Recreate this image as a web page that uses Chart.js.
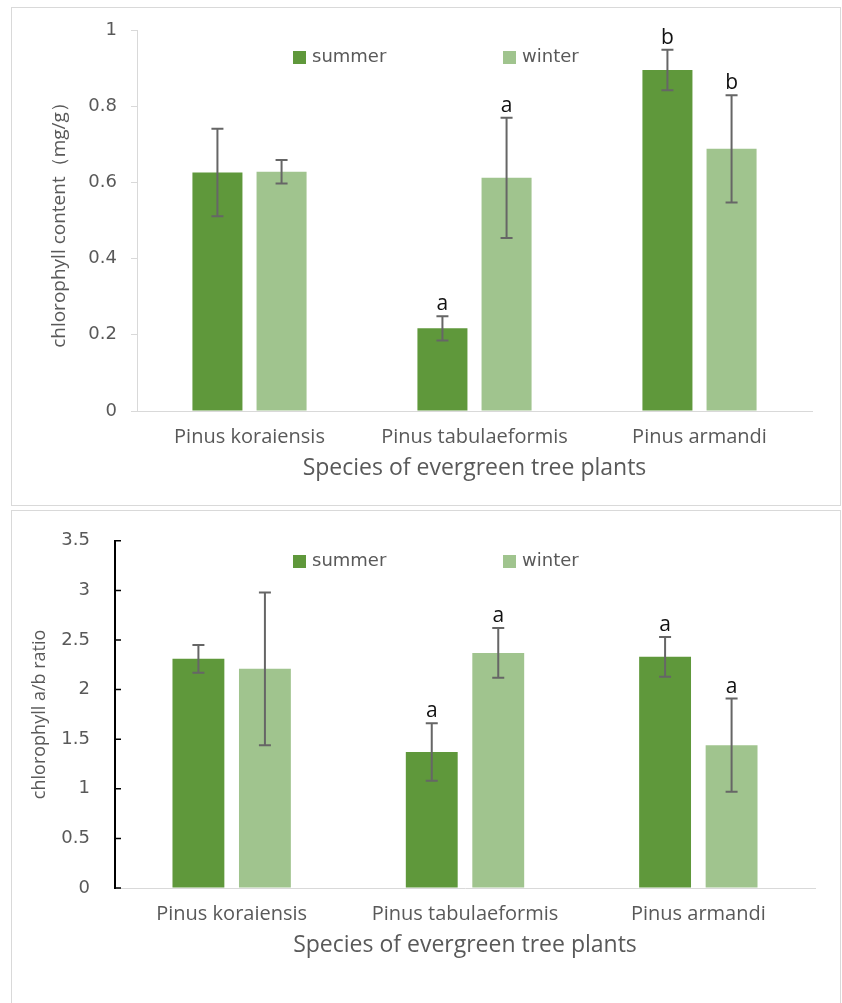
<!DOCTYPE html>
<html>
<head>
<meta charset="utf-8">
<script src="https://cdn.jsdelivr.net/npm/chart.js"></script>
<style>
  body { margin: 0; background: #fff; }
  #hoja { position: relative; width: 842px; height: 1003px; overflow: hidden; background: #fff; }
  .marco { position: absolute; border: 1px solid #d9d9d9; box-sizing: border-box; }
  canvas { position: absolute; left: 0; }
</style>
</head>
<body>
<div id="hoja">
  <div class="marco" style="left:11px; top:7px; width:830px; height:499px;"></div>
  <div class="marco" style="left:11px; top:510px; width:830px; height:510px;"></div>
  <canvas id="canvas-clorofila" width="842" height="505" style="top:0px"></canvas>
  <canvas id="canvas-ratio" width="842" height="498" style="top:505px"></canvas>
</div>
<script>
  // datos
  let especies = ["Pinus koraiensis", "Pinus tabulaeformis", "Pinus armandi"]
  let estaciones = ["summer", "winter"]

  // contenido de clorofila (mg/g)
  let clorofilaVerano = [0.626, 0.217, 0.895]
  let clorofilaInvierno = [0.628, 0.612, 0.688]
  let errClorofilaVerano = [0.115, 0.032, 0.053]
  let errClorofilaInvierno = [0.031, 0.158, 0.141]
  let letrasClorofilaVerano = ["", "a", "b"]
  let letrasClorofilaInvierno = ["", "a", "b"]

  // relacion clorofila a/b
  let ratioVerano = [2.31, 1.37, 2.33]
  let ratioInvierno = [2.21, 2.37, 1.44]
  let errRatioVerano = [0.14, 0.29, 0.2]
  let errRatioInvierno = [0.77, 0.25, 0.47]
  let letrasRatioVerano = ["", "a", "a"]
  let letrasRatioInvierno = ["", "a", "a"]

  let verdeOscuro = "#5f983b"
  let verdeClaro = "#a0c48e"
  let gris = "#595959"

  // barras de error y letras encima
  const barrasError = {
    id: "barrasError",
    afterDatasetsDraw(chart, args, opts) {
      const ctx = chart.ctx
      const escalaY = chart.scales.y
      chart.data.datasets.forEach(function(ds, i) {
        const meta = chart.getDatasetMeta(i)
        meta.data.forEach(function(barra, j) {
          const v = ds.data[j]
          const e = opts.errores[i][j]
          const yArriba = escalaY.getPixelForValue(v + e)
          const yAbajo = escalaY.getPixelForValue(v - e)
          ctx.save()
          ctx.strokeStyle = "#666666"
          ctx.lineWidth = 2
          ctx.beginPath()
          ctx.moveTo(barra.x, yArriba)
          ctx.lineTo(barra.x, yAbajo)
          ctx.moveTo(barra.x - 6, yArriba)
          ctx.lineTo(barra.x + 6, yArriba)
          ctx.moveTo(barra.x - 6, yAbajo)
          ctx.lineTo(barra.x + 6, yAbajo)
          ctx.stroke()
          const letra = opts.letras[i][j]
          if (letra) {
            ctx.fillStyle = "#111111"
            ctx.font = "21px 'Open Sans'"
            ctx.textAlign = "center"
            ctx.textBaseline = "alphabetic"
            ctx.fillText(letra, barra.x, yArriba - 6)
          }
          ctx.restore()
        })
      })
    }
  }

  // leyenda dentro del area del grafico
  const leyenda = {
    id: "leyenda",
    afterDraw(chart, args, opts) {
      const ctx = chart.ctx
      ctx.save()
      chart.data.datasets.forEach(function(ds, i) {
        const x = opts.x[i]
        ctx.fillStyle = ds.backgroundColor
        ctx.fillRect(x, opts.y - 6, 13, 13)
        ctx.fillStyle = gris
        ctx.font = "18px 'DejaVu Sans'"
        ctx.textAlign = "left"
        ctx.textBaseline = "middle"
        ctx.fillText(ds.label, x + 19, opts.y)
      })
      ctx.restore()
    }
  }

  // marcas hacia adentro del eje y (grafico de abajo)
  const marcasInternas = {
    id: "marcasInternas",
    afterDraw(chart, args, opts) {
      if (!opts.mostrar) return
      const ctx = chart.ctx
      const escalaY = chart.scales.y
      ctx.save()
      ctx.strokeStyle = "#000"
      ctx.lineWidth = 1.5
      ctx.beginPath()
      escalaY.ticks.forEach(function(t, k) {
        const y = escalaY.getPixelForTick(k)
        ctx.moveTo(chart.chartArea.left, y)
        ctx.lineTo(chart.chartArea.left + 6, y)
      })
      ctx.stroke()
      ctx.restore()
    }
  }

  function crearGrafico(id, cfg) {
    var ctx = document.getElementById(id).getContext("2d")
    return new Chart(ctx, {
      type: "bar",
      data: {
        labels: especies,
        datasets: [
          { label: estaciones[0], data: cfg.verano, backgroundColor: verdeOscuro, barPercentage: 0.78, categoryPercentage: 0.57 },
          { label: estaciones[1], data: cfg.invierno, backgroundColor: verdeClaro, barPercentage: 0.78, categoryPercentage: 0.57 }
        ]
      },
      plugins: [barrasError, leyenda, marcasInternas],
      options: {
        responsive: false,
        animation: false,
        layout: { padding: cfg.padding },
        plugins: {
          legend: { display: false },
          tooltip: { enabled: false },
          barrasError: { errores: cfg.errores, letras: cfg.letras },
          leyenda: { x: [293, 503], y: cfg.yLeyenda },
          marcasInternas: { mostrar: cfg.marcasInternas }
        },
        scales: {
          x: {
            grid: { drawOnChartArea: false, drawTicks: false },
            border: { color: "#d9d9d9", width: 1 },
            ticks: { padding: 14, color: gris, font: { family: "Open Sans", size: 20 } },
            title: {
              display: true,
              text: "Species of evergreen tree plants",
              color: gris,
              font: { family: "Open Sans", size: 23 },
              padding: { top: 0, bottom: 0 }
            },
            afterFit: function(s) { s.height = 71 }
          },
          y: {
            min: 0,
            max: cfg.max,
            ticks: {
              stepSize: cfg.paso,
              padding: cfg.paddingTicks,
              color: gris,
              font: { family: "DejaVu Sans", size: 18 },
              callback: function(valor) { return String(Number(valor.toFixed(2))) }
            },
            grid: { drawOnChartArea: false, drawTicks: cfg.ticksAfuera, tickLength: 6, color: "#d9d9d9" },
            border: { color: cfg.colorEje, width: cfg.anchoEje },
            title: {
              display: true,
              text: cfg.tituloY,
              color: gris,
              font: { family: "Open Sans", size: cfg.tamTitulo },
              padding: { top: cfg.paddingTitulo, bottom: 0 }
            },
            afterFit: function(s) { s.width = cfg.anchoY }
          }
        }
      }
    })
  }

  var graficoClorofila = crearGrafico("canvas-clorofila", {
    verano: clorofilaVerano,
    invierno: clorofilaInvierno,
    errores: [errClorofilaVerano, errClorofilaInvierno],
    letras: [letrasClorofilaVerano, letrasClorofilaInvierno],
    padding: { left: 0, top: 30, right: 30, bottom: 23 },
    yLeyenda: 57,
    max: 1,
    paso: 0.2,
    paddingTicks: 14,
    ticksAfuera: true,
    colorEje: "#d9d9d9",
    anchoEje: 1,
    tituloY: "chlorophyll content（mg/g）",
    tamTitulo: 19,
    paddingTitulo: 48,
    anchoY: 137,
    marcasInternas: false
  })

  var graficoRatio = crearGrafico("canvas-ratio", {
    verano: ratioVerano,
    invierno: ratioInvierno,
    errores: [errRatioVerano, errRatioInvierno],
    letras: [letrasRatioVerano, letrasRatioInvierno],
    padding: { left: 0, top: 29, right: 27, bottom: 44 },
    yLeyenda: 56,
    max: 3.5,
    paso: 0.5,
    paddingTicks: 25,
    ticksAfuera: false,
    colorEje: "#000000",
    anchoEje: 2,
    tituloY: "chlorophyll a/b ratio",
    tamTitulo: 18,
    paddingTitulo: 29,
    anchoY: 115,
    marcasInternas: true
  })
</script>
</body>
</html>
